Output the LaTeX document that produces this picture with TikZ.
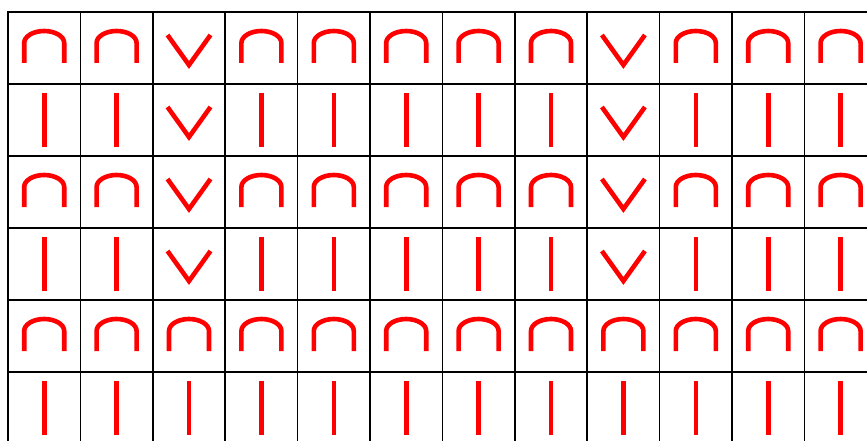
\documentclass[tikz,border=0pt]{standalone}
\tikzset{
    chart/.style={x=1pt, y=-1pt},
    cell/.style={draw, line width=1.6pt, minimum width=72.4pt, minimum height=72pt, inner sep=0pt, outer sep=0pt},
    stitch/.style={draw=red, line width=4.6pt},
    % knit symbols, drawn round the centre of a cell
    arch/.pic={\draw[stitch] (-20,15) -- (-20,-5) arc[start angle=180, end angle=360, x radius=20, y radius=12] -- (20,15);},
    bar/.pic={\draw[stitch] (0,-27) -- (0,27);},
    vee/.pic={\draw[stitch] (-21.5,-13) -- (0,17) -- (21.5,-13);},
}
\begin{document}
\begin{tikzpicture}[chart]
    \path[use as bounding box, fill=white] (0,0) rectangle (867,441);
    \clip (0,0) rectangle (867,441);

    \foreach \r in {1,...,6}
        \foreach \c in {1,...,12}
            \node[cell] (c-\r-\c) at ({8+72.4*(\c-0.5)}, {12+72*(\r-0.5)}) {};

    % columns 3 and 9 carry the V in rows 1 to 4
    \foreach \r/\kind in {1/arch, 2/bar, 3/arch, 4/bar, 5/arch, 6/bar}
        \foreach \c in {1,...,12}{
            \pgfmathtruncatemacro\isvee{and(\r<5, or(\c==3, \c==9))}
            \ifnum\isvee=1
                \pic at (c-\r-\c) {vee};
            \else
                \pic at (c-\r-\c) {\kind};
            \fi
        }
\end{tikzpicture}
\end{document}
